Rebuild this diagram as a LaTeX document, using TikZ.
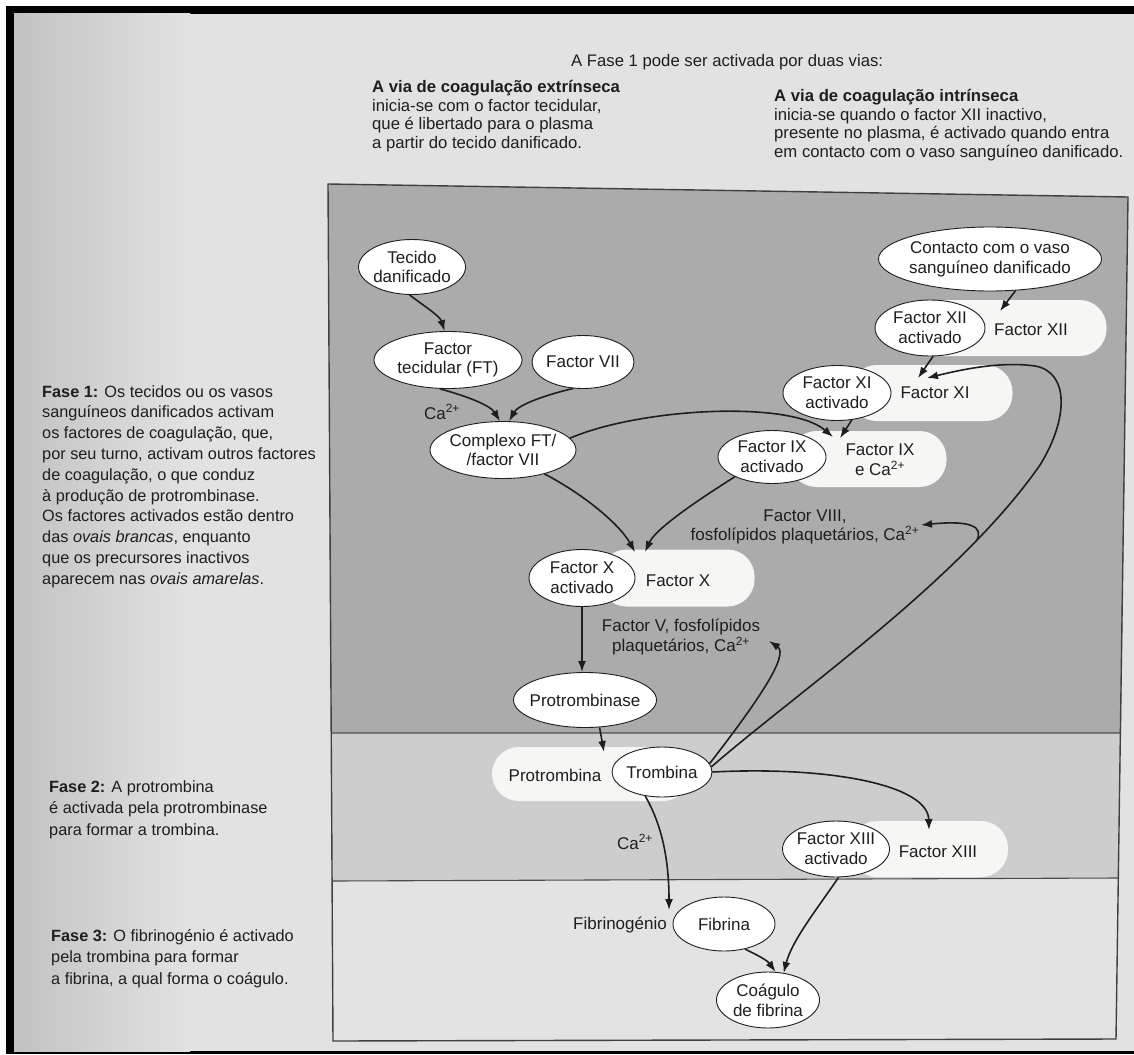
\documentclass[tikz,border=0pt]{standalone}
\usepackage{fontspec}
\setmainfont{Liberation Sans}
\usetikzlibrary{shapes.geometric,arrows.meta}
\definecolor{phaseone}{HTML}{ABABAB}
\definecolor{phasetwo}{HTML}{CDCDCD}
\definecolor{phasethree}{HTML}{E3E3E3}
\definecolor{pagebg}{HTML}{E2E2E2}
\definecolor{pagedark}{HTML}{C2C2C2}
\definecolor{cloudc}{HTML}{F6F6F4}
\definecolor{inkc}{HTML}{1E1E1E}
\newcommand\ndfont{\fontsize{17}{19.7}\selectfont}
\newcommand\sidefont{\fontsize{16.3}{20.8}\selectfont}
\newcommand\sidefontb{\fontsize{16.3}{21.7}\selectfont}
\newcommand\topfont{\fontsize{16.7}{18.6}\selectfont}
\newcommand\ctwo{Ca\textsuperscript{2+}}
\begin{document}
\begin{tikzpicture}[x=1pt,y=-1pt,
  nd/.style={ellipse, draw=inkc, line width=0.9pt, fill=white, inner xsep=-10pt, inner ysep=-6pt, align=center, font=\ndfont, text=inkc},
  cloudbox/.style={rectangle, rounded corners=27pt, fill=cloudc, draw=none, inner sep=0pt},
  lbl/.style={inner sep=0pt, align=center, font=\ndfont, text=inkc},
  sidetext/.style={inner sep=0pt, align=left, anchor=north west, text=inkc},
  arr/.style={draw=inkc, line width=1.6pt, -{Latex[length=11pt,width=8pt]}},
]
\useasboundingbox (0,0) rectangle (1134,1054);
% page
\fill[white] (0,0) rectangle (1134,1054);
\fill[black] (6,6) rectangle (1134,1054);
\fill[pagebg] (14,14) rectangle (1134,1051);
\shade[left color=pagedark, right color=pagebg] (14,14) rectangle (190,1051);
% panel
\coordinate (TL) at (328,184);
\coordinate (TR) at (1128,197);
\coordinate (L1) at (331,733);
\coordinate (R1) at (1121,733);
\coordinate (L2) at (332,881);
\coordinate (R2) at (1118,878);
\coordinate (BL) at (333,1041);
\coordinate (BR) at (1116,1039);
\fill[phaseone] (TL)--(TR)--(R1)--(L1)--cycle;
\fill[phasetwo] (L1)--(R1)--(R2)--(L2)--cycle;
\fill[phasethree] (L2)--(R2)--(BR)--(BL)--cycle;
\draw[black!75, line width=1.4pt] (TL)--(TR)--(BR)--(BL)--cycle;
\draw[black!70, line width=1.1pt] (L1)--(R1) (L2)--(R2);
% top texts
\node[sidetext, font=\topfont] (title) at (571,54) {A Fase 1 pode ser activada por duas vias:};
\node[sidetext, font=\topfont] (extr) at (372,80) {\textbf{A via de coagulação extrínseca}\\inicia-se com o factor tecidular,\\que é libertado para o plasma\\a partir do tecido danificado.};
\node[sidetext, font=\topfont] (intr) at (774,89) {\textbf{A via de coagulação intrínseca}\\inicia-se quando o factor XII inactivo,\\presente no plasma, é activado quando entra\\em contacto com o vaso sanguíneo danificado.};
% side texts
\node[sidetext, font=\sidefont] (fase1) at (42,385) {\textbf{Fase 1:} Os tecidos ou os vasos\\sanguíneos danificados activam\\os factores de coagulação, que,\\por seu turno, activam outros factores\\de coagulação, o que conduz\\à produção de protrombinase.\\Os factores activados estão dentro\\das \textit{ovais brancas}, enquanto\\que os precursores inactivos\\aparecem nas \textit{ovais amarelas}.};
\node[sidetext, font=\sidefontb] (fase2) at (49,780) {\textbf{Fase 2:} A protrombina\\é activada pela protrombinase\\para formar a trombina.};
\node[sidetext, font=\sidefontb] (fase3) at (51,929) {\textbf{Fase 3:} O fibrinogénio é activado\\pela trombina para formar\\a fibrina, a qual forma o coágulo.};
% clouds (inactive precursors)
\node[cloudbox, minimum width=207pt, minimum height=56pt] (c12) at (1003,328) {};
\node[cloudbox, minimum width=163pt, minimum height=56pt] (c11) at (931,393) {};
\node[cloudbox, minimum width=157pt, minimum height=56pt] (c9) at (868,459) {};
\node[cloudbox, minimum width=155pt, minimum height=57pt] (c10) at (677,578) {};
\node[cloudbox, minimum width=198pt, minimum height=54pt] (cpro) at (591,774) {};
\node[cloudbox, minimum width=158pt, minimum height=56pt] (c13) at (929,849) {};
\node[lbl] (t12) at (1031,330) {Factor XII};
\node[lbl] (t11) at (935,393) {Factor XI};
\node[lbl] (t9) at (880,460) {Factor IX\\e \ctwo};
\node[lbl] (t10) at (678,581) {Factor X};
\node[lbl] (tpro) at (555,775) {Protrombina};
\node[lbl] (t13) at (938,852) {Factor XIII};
% ellipses
\node[nd, minimum width=107pt, minimum height=55pt] (tecido) at (412,267) {Tecido\\danificado};
\node[nd, minimum width=148pt, minimum height=57pt] (ft) at (448,360) {Factor\\tecidular (FT)};
\node[nd, minimum width=102pt, minimum height=53pt] (f7) at (583,362) {Factor VII};
\node[nd, minimum width=146pt, minimum height=57pt] (cx) at (503,450) {Complexo FT/\\/factor VII};
\node[nd, minimum width=223pt, minimum height=64pt] (contacto) at (990,259) {Contacto com o vaso\\sanguíneo danificado};
\node[nd, minimum width=110pt, minimum height=56pt] (f12a) at (930,328) {Factor XII\\activado};
\node[nd, minimum width=108pt, minimum height=55pt] (f11a) at (837,393) {Factor XI\\activado};
\node[nd, minimum width=108pt, minimum height=53pt] (f9a) at (772,457) {Factor IX\\activado};
\node[nd, minimum width=106pt, minimum height=57pt] (f10a) at (582,578) {Factor X\\activado};
\node[nd, minimum width=143pt, minimum height=55pt] (ptase) at (585,700) {Protrombinase};
\node[nd, minimum width=100pt, minimum height=50pt] (tromb) at (662,772) {Trombina};
\node[nd, minimum width=107pt, minimum height=56pt] (f13a) at (836,849) {Factor XIII\\activado};
\node[nd, minimum width=102pt, minimum height=54pt] (fibrina) at (724,924) {Fibrina};
\node[nd, minimum width=103pt, minimum height=56pt] (coag) at (768,1000) {Coágulo\\de fibrina};
% labels
\node[lbl] (ca1) at (442,412) {\ctwo};
\node[lbl] (f8lbl) at (805,527) {Factor VIII,\\fosfolípidos plaquetários, \ctwo};
\node[lbl] (f5lbl) at (681,637) {Factor V, fosfolípidos\\plaquetários, \ctwo};
\node[lbl] (ca2) at (635,842) {\ctwo};
\node[lbl] (fbg) at (620,925) {Fibrinogénio};
% connector end points
\coordinate (c9inA) at (833,437);
\coordinate (c9inB) at (840,438);
\coordinate (c10inA) at (635,552);
\coordinate (c10inB) at (645,552);
\coordinate (c12in) at (1000,311);
\coordinate (c11inA) at (918,378);
\coordinate (c11inB) at (927,378);
\coordinate (cproin) at (604,752);
\coordinate (fbgin) at (669,910);
\coordinate (c13in) at (929,830);
\coordinate (f5in) at (769,641);
\coordinate (f8in) at (921,525);
\coordinate (br) at (977,540);
% connectors
\draw[arr] (tecido.-95) .. controls (424,306) and (440,316) .. (ft.97);
\draw[arr] (ft.-106) .. controls (466,396) and (490,405) .. (cx.96);
\draw[arr] (f7.-110) .. controls (545,395) and (518,405) .. (cx.78);
\draw[arr] (cx.10) .. controls (640,408) and (790,400) .. (c9inA);
\draw[arr] (cx.-30) .. controls (585,495) and (620,525) .. (c10inA);
\draw[arr] (f9a.-152) .. controls (690,505) and (655,530) .. (c10inB);
\draw[arr] (contacto.-51) -- (c12in);
\draw[arr] (f12a.-84) -- (c11inA);
\draw[arr] (f11a.-61) -- (c9inB);
\draw[arr] (f10a.south) -- (f10a.south |- ptase.north);
\draw[arr] (ptase.-62) -- (cproin);
\draw[arr] (tromb.-125) .. controls (662,825) and (669,860) .. (fbgin);
\draw[arr] (tromb.0) .. controls (830,766) and (928,785) .. (c13in);
\draw[arr] (tromb.10) .. controls (755,705) and (790,655) .. (f5in);
\draw[arr] (tromb.6) .. controls (800,690) and (960,580) .. (1040,465) .. controls (1068,420) and (1070,372) .. (1035,366) .. controls (1000,361) and (960,370) .. (c11inB);
\draw[arr] (br) .. controls (983,527) and (972,520) .. (f8in);
\draw[arr] (fibrina.-50) .. controls (757,955) and (767,960) .. (coag.75);
\draw[arr] (f13a.-85) .. controls (820,905) and (792,940) .. (coag.60);
\end{tikzpicture}
\end{document}
